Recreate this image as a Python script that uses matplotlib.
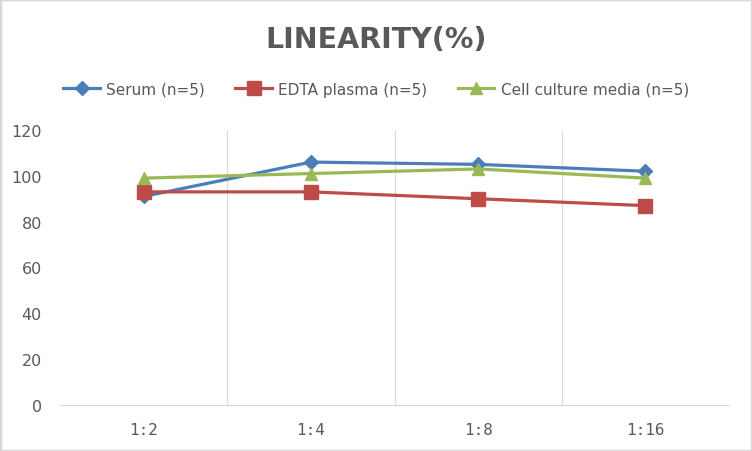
import matplotlib
matplotlib.use("Agg")
import matplotlib.pyplot as plt
from matplotlib.patches import Rectangle

categories = ["1:2", "1:4", "1:8", "1:16"]
serum = [91, 106, 105, 102]
edta = [93, 93, 90, 87]
cell = [99, 101, 103, 99]
yticks = [0, 20, 40, 60, 80, 100, 120]

W, H = 752, 452
fig = plt.figure(figsize=(W / 100, H / 100), dpi=100)
fig.patch.set_facecolor("white")
fig.patches.append(Rectangle((0, 0), 1, 1, transform=fig.transFigure,
                             fill=False, edgecolor="#d9d9d9", linewidth=2.5))

left, right, top, bottom = 60, 729, 131, 406
ax = fig.add_axes([left / W, 1 - bottom / H, (right - left) / W, (bottom - top) / H])

x = list(range(len(categories)))
ax.plot(x, serum, color="#4a7ebb", lw=2.3, marker="D", ms=7, label="Serum (n=5)")
ax.plot(x, edta, color="#be4b48", lw=2.3, marker="s", ms=10, label="EDTA plasma (n=5)")
ax.plot(x, cell, color="#98b954", lw=2.3, marker="^", ms=9, label="Cell culture media (n=5)")

ax.set_xlim(-0.5, len(categories) - 0.5)
ax.set_ylim(0, 120)
ax.set_yticks(yticks)
ax.set_xticks(x)
ax.set_xticklabels(categories, fontfamily="DejaVu Sans Mono")
for b in [0.5, 1.5, 2.5]:
    ax.axvline(b, color="#d9d9d9", lw=0.8, zorder=0)

for s in ["top", "right", "left"]:
    ax.spines[s].set_visible(False)
ax.spines["bottom"].set_color("#d9d9d9")
ax.tick_params(axis="both", length=0, colors="#595959", labelsize=11.5)
ax.tick_params(axis="x", pad=12)
ax.tick_params(axis="y", pad=13)

fig.text(0.5, 1 - 40 / H, "LINEARITY(%)", ha="center", va="center",
         fontsize=20.5, fontweight="bold", color="#595959",
         fontfamily="DejaVu Sans")

leg = fig.legend(loc="center", bbox_to_anchor=(0.5, 1 - 90 / H), ncol=3,
                 frameon=False, fontsize=11, handlelength=2.4, columnspacing=2.0,
                 handletextpad=0.4)
for t in leg.get_texts():
    t.set_color("#595959")

fig.savefig("out.png", dpi=100)
